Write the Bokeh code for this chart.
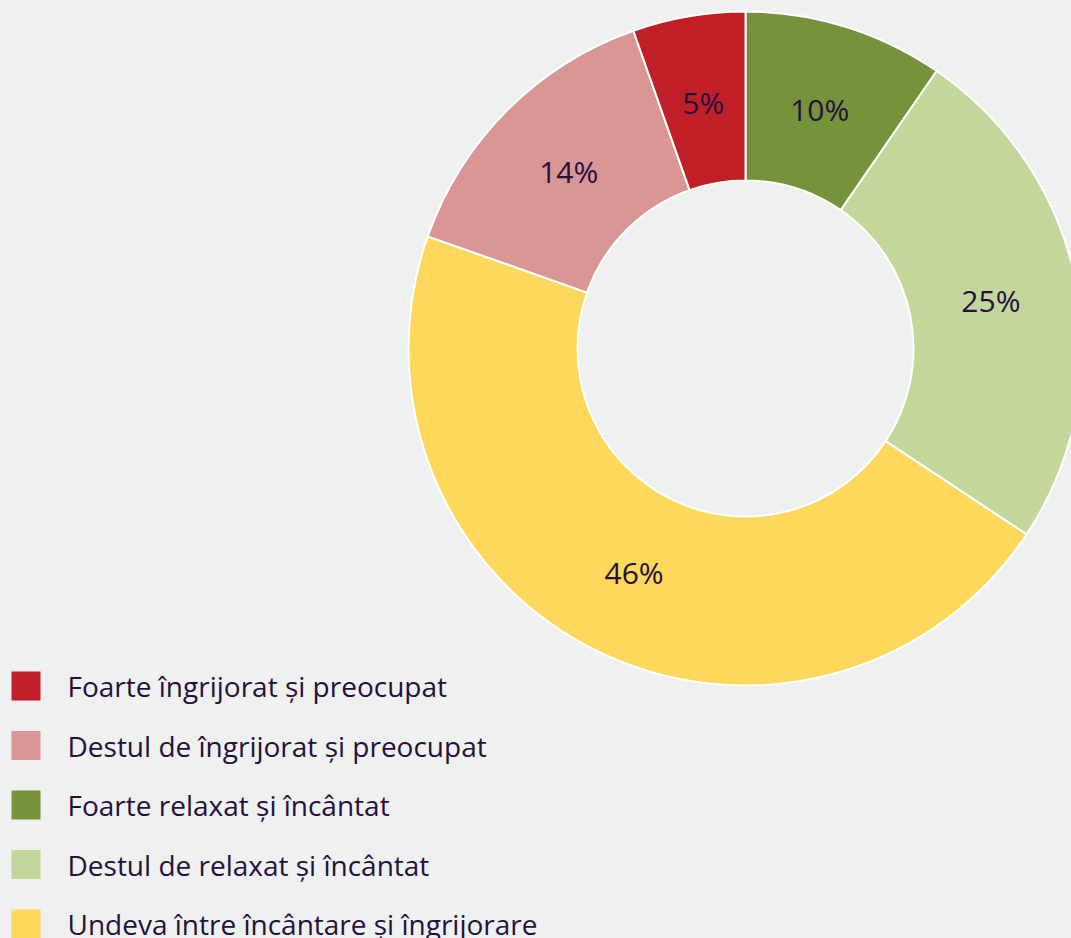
import numpy as np
from bokeh.plotting import figure
from bokeh.models import Range1d, ColumnDataSource
from bokeh.core.properties import value
from bokeh.embed import file_html
from bokeh.resources import INLINE

# Legend order
categories = [
    "Foarte îngrijorat și preocupat",
    "Destul de îngrijorat și preocupat",
    "Foarte relaxat și încântat",
    "Destul de relaxat și încântat",
    "Undeva între încântare și îngrijorare",
]
colors = ["#c01f27", "#da9595", "#76923b", "#c4d79b", "#fed85d"]
shares = [5.4, 14.2, 9.6, 24.7, 46.1]
pct_labels = ["5%", "14%", "10%", "25%", "46%"]

# Order of the slices clockwise starting at 12 o'clock
pie_order = [2, 3, 4, 1, 0]

BG = "#eff1f0"
TXT = "#25103d"
W, H = 1071, 938
FONT = "Open Sans"

p = figure(width=W, height=H, x_range=Range1d(0, W), y_range=Range1d(0, H),
           output_backend="svg", toolbar_location=None, min_border=0,
           background_fill_color=BG, border_fill_color=BG, outline_line_color=None)
p.axis.visible = False
p.grid.visible = False

cx, cy = 745, 590
r_in, r_out = 168, 337

vals = np.array([shares[i] for i in pie_order], dtype=float)
frac = vals / vals.sum()
cum_end = np.cumsum(frac)
cum_start = cum_end - frac
start = np.pi / 2 - 2 * np.pi * cum_start
end = np.pi / 2 - 2 * np.pi * cum_end
mid = np.pi / 2 - 2 * np.pi * (cum_start + frac / 2)
r_mid = 250

src = ColumnDataSource(dict(
    start=start, end=end,
    color=[colors[i] for i in pie_order],
    lx=cx + r_mid * np.cos(mid), ly=cy + r_mid * np.sin(mid),
    lab=[pct_labels[i] for i in pie_order],
))
p.annular_wedge(x=cx, y=cy, inner_radius=r_in, outer_radius=r_out,
                start_angle="start", end_angle="end", direction="clock",
                fill_color="color", line_color="white", line_width=2, source=src)
p.text(x="lx", y="ly", text="lab", source=src, text_align="center",
       text_baseline="middle", text_color=TXT, text_font=value(FONT),
       text_font_size="30px")

# Legend drawn manually
n = len(categories)
idx = np.arange(n)
leg_y = 252.5 - 59.5 * idx
leg = ColumnDataSource(dict(x=np.full(n, 25.5), y=leg_y, tx=np.full(n, 67.0),
                            color=colors, lab=categories))
p.rect(x="x", y="y", width=29, height=29, width_units="screen", height_units="screen",
       fill_color="color", line_color=None, source=leg)
p.text(x="tx", y="y", text="lab", source=leg, text_align="left", text_baseline="middle",
       text_color=TXT, text_font=value(FONT), text_font_size="28px")

html = file_html(p, INLINE)
html = html.replace("</head>", "<style>html,body{background:%s;}</style></head>" % BG, 1)
open("out.html", "w").write(html)
